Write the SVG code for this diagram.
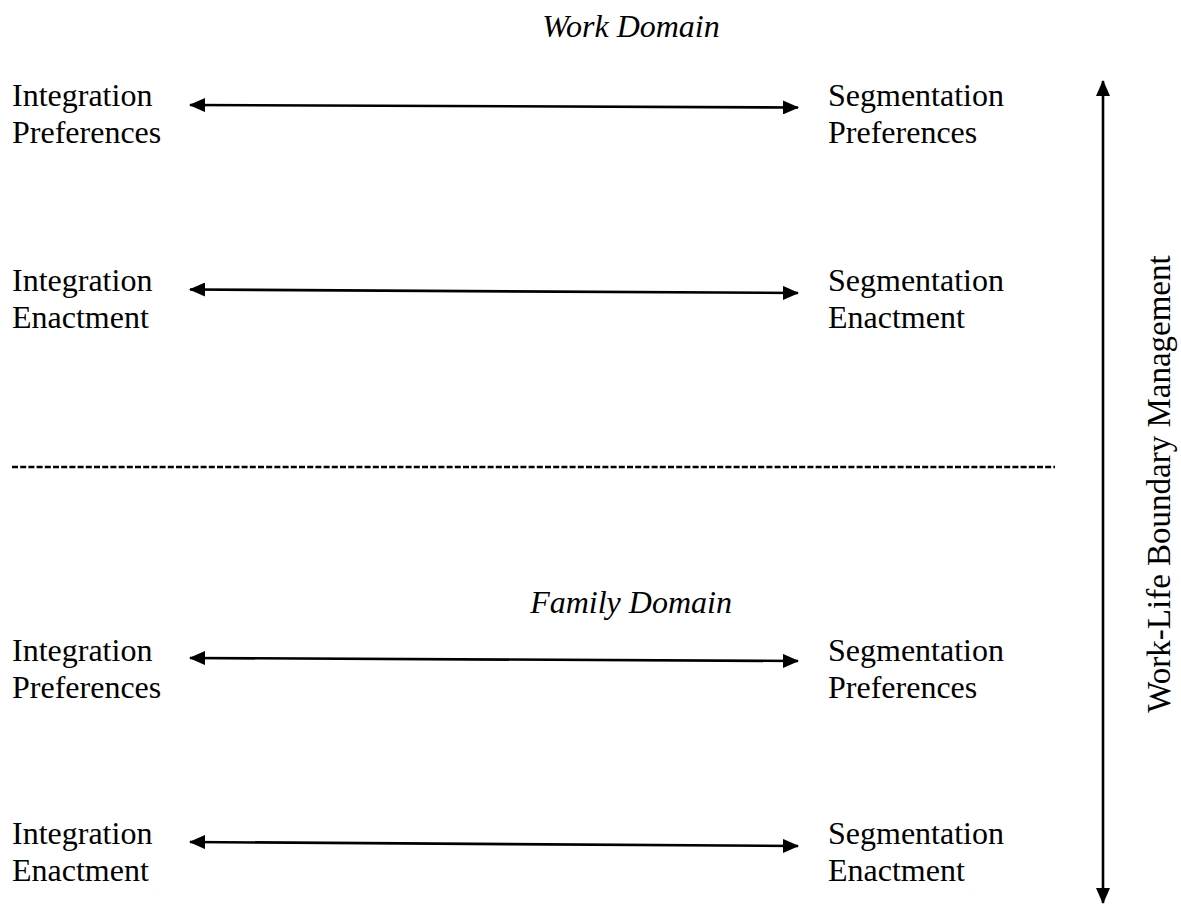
<svg xmlns="http://www.w3.org/2000/svg" width="1181" height="909" viewBox="0 0 1181 909">
  <style>
    .lbl { font-family: "Liberation Serif", "Times New Roman", serif; font-size: 32px; fill: #000; }
    .ttl { font-family: "Liberation Serif", "Times New Roman", serif; font-size: 32px; font-style: italic; fill: #000; }
    .conn { stroke: #000; stroke-width: 2.6; fill: none; marker-start: url(#head); marker-end: url(#head); }
  </style>
  <defs>
    <marker id="head" viewBox="0 0 16 14" refX="15" refY="7" markerWidth="16" markerHeight="14" markerUnits="userSpaceOnUse" orient="auto-start-reverse">
      <path d="M0,0 L16,7 L0,14 Z" fill="#000"/>
    </marker>
  </defs>
  <rect width="1181" height="909" fill="#fff"/>

  <!-- domain headings -->
  <text class="ttl" x="631" y="37" text-anchor="middle">Work Domain</text>
  <text class="ttl" x="631" y="613" text-anchor="middle">Family Domain</text>

  <!-- divider between domains -->
  <line x1="12" y1="467" x2="1055" y2="467" stroke="#000" stroke-width="2.4" stroke-dasharray="6 2.2"/>

  <!-- work domain nodes -->
  <g id="work-int-pref">
    <text class="lbl" x="12" y="106">Integration</text>
    <text class="lbl" x="12" y="143">Preferences</text>
  </g>
  <g id="work-seg-pref">
    <text class="lbl" x="828" y="106">Segmentation</text>
    <text class="lbl" x="828" y="143">Preferences</text>
  </g>
  <g id="work-int-enact">
    <text class="lbl" x="12" y="291">Integration</text>
    <text class="lbl" x="12" y="328">Enactment</text>
  </g>
  <g id="work-seg-enact">
    <text class="lbl" x="828" y="291">Segmentation</text>
    <text class="lbl" x="828" y="328">Enactment</text>
  </g>

  <!-- family domain nodes -->
  <g id="family-int-pref">
    <text class="lbl" x="12" y="661">Integration</text>
    <text class="lbl" x="12" y="698">Preferences</text>
  </g>
  <g id="family-seg-pref">
    <text class="lbl" x="828" y="661">Segmentation</text>
    <text class="lbl" x="828" y="698">Preferences</text>
  </g>
  <g id="family-int-enact">
    <text class="lbl" x="12" y="844">Integration</text>
    <text class="lbl" x="12" y="881">Enactment</text>
  </g>
  <g id="family-seg-enact">
    <text class="lbl" x="828" y="844">Segmentation</text>
    <text class="lbl" x="828" y="881">Enactment</text>
  </g>

  <!-- axis label -->
  <g id="axis-label">
    <text class="lbl" style="font-size:33px" transform="translate(1170 484) rotate(-90)" text-anchor="middle">Work-Life Boundary Management</text>
  </g>

  <!-- connectors -->
  <g id="connectors">
    <line class="conn" x1="190" y1="105" x2="798" y2="107.5"/>
    <line class="conn" x1="190" y1="289.5" x2="798" y2="293"/>
    <line class="conn" x1="190" y1="658" x2="798" y2="661"/>
    <line class="conn" x1="190" y1="842" x2="798" y2="846"/>
    <line class="conn" x1="1103" y1="81" x2="1103" y2="903"/>
  </g>
</svg>
